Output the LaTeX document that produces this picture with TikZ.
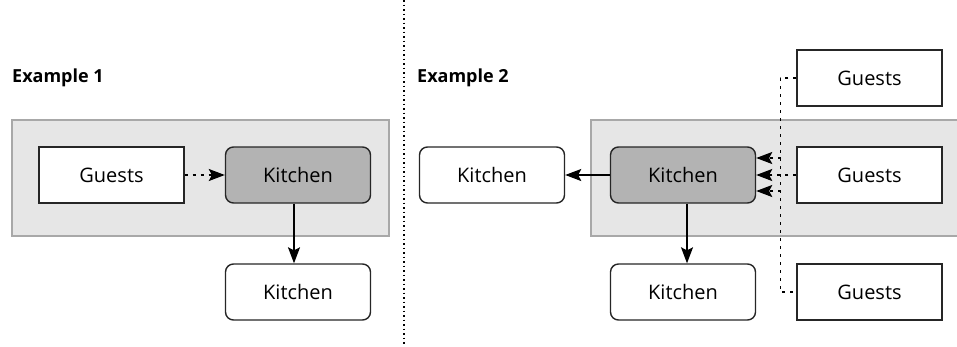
\documentclass[tikz,border=0pt]{standalone}
\usepackage{fontspec}
\setmainfont{Open Sans}
\usetikzlibrary{arrows.meta, positioning}

\definecolor{zonefill}{HTML}{E6E6E6}
\definecolor{zoneline}{HTML}{A8A8A8}
\definecolor{busyfill}{HTML}{B3B3B3}

\tikzset{
  box/.style={draw=black!85, line width=1.4pt, minimum width=145pt, minimum height=56pt,
    font=\fontsize{20}{23}\selectfont, fill=white},
  roundbox/.style={box, rounded corners=8pt},
  busybox/.style={roundbox, fill=busyfill},
  zone/.style={fill=zonefill, draw=zoneline, line width=1.2pt},
  heading/.style={font=\fontsize{18}{22}\selectfont\bfseries, anchor=west, inner sep=0pt},
  flow/.style={line width=1.4pt, -{Stealth[length=16pt, width=12pt, inset=3pt]}},
  call/.style={flow, dash pattern=on 3pt off 5pt},
  callline/.style={line width=1.4pt, dash pattern=on 3pt off 5pt},
  divider/.style={line width=1.3pt, dash pattern=on 1.5pt off 3pt}
}

\begin{document}
\begin{tikzpicture}[x=1pt, y=-1pt]
    \useasboundingbox (0,0) rectangle (957,346);

    % Example 1
    \draw[zone] (12,120) rectangle (389,236);
    \node[heading] (ex1) at (12,78) {Example 1};
    \node[box] (g1) at (111.5,175) {Guests};
    \node[busybox] (k1) at (298,175) {Kitchen};
    \node[roundbox] (k1b) at (298,292) {Kitchen};
    \draw[call] (g1) -- (k1);
    \draw[flow] ([xshift=-4pt]k1.south) -- ([xshift=-4pt]k1b.north);

    \draw[divider] (404,0) -- (404,346);

    % Example 2
    \fill[zonefill] (591,120) rectangle (957,236);
    \draw[zoneline, line width=1.2pt] (957,120) -| (591,236) -- (957,236);
    \node[heading] (ex2) at (417,78) {Example 2};
    \node[busybox] (k2) at (683,175) {Kitchen};
    \node[roundbox] (k2l) at (492,175) {Kitchen};
    \node[roundbox] (k2b) at (683,292) {Kitchen};
    \node[box] (g2t) at (869.5,78) {Guests};
    \node[box] (g2m) at (869.5,175) {Guests};
    \node[box] (g2b) at (869.5,292) {Guests};
    \draw[flow] (k2) -- (k2l);
    \draw[flow] ([xshift=4pt]k2.south) -- ([xshift=4pt]k2b.north);
    \draw[callline] (g2t.west) -- ++(-16,0) -- ++(0,214) -- (g2b.west);
    \draw[call] (g2m) -- (k2);
    \draw[call] (781,158) -- ([yshift=17pt]k2.east);
    \draw[call] (781,191) -- ([yshift=-16pt]k2.east);
\end{tikzpicture}
\end{document}
